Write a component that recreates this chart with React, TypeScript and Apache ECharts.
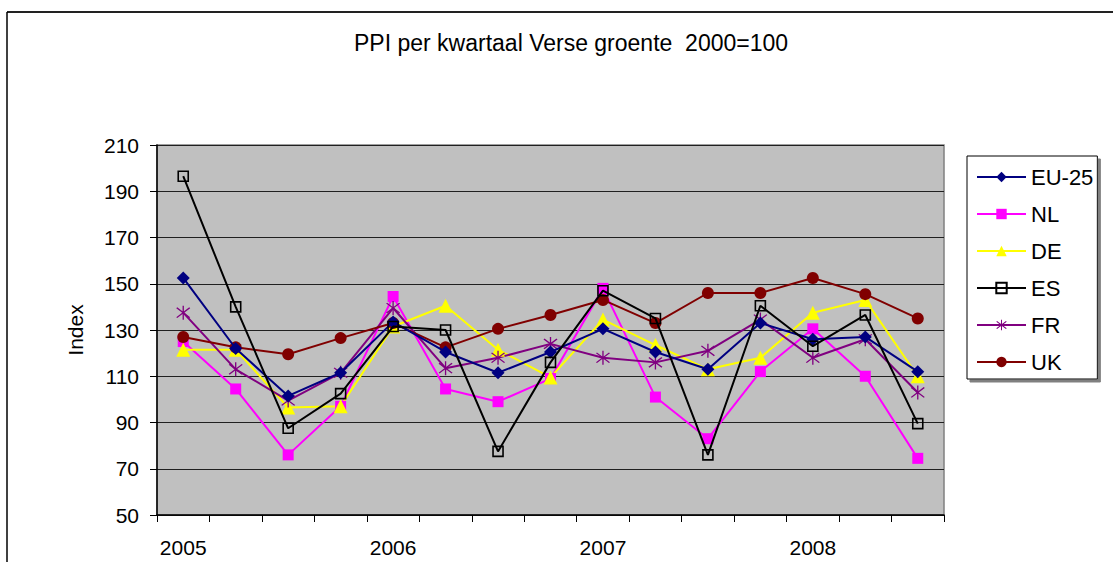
import React, { useEffect, useRef } from "react";
import * as echarts from "echarts";

const quarters = [
  "2005K1", "2005K2", "2005K3", "2005K4",
  "2006K1", "2006K2", "2006K3", "2006K4",
  "2007K1", "2007K2", "2007K3", "2007K4",
  "2008K1", "2008K2", "2008K3",
];
const eu25 = [152.5, 122, 101.5, 111.5, 133.5, 120.5, 111.5, 120.5, 130.5, 120.5, 113, 133, 126, 127, 112];
const nl = [125, 104.5, 76, 97, 144.5, 104.5, 99, 109, 148, 101, 83, 112, 130.5, 110, 74.5];
const de = [121.5, 121.5, 96.5, 97, 131.5, 140.5, 121.5, 109.5, 134.5, 123.5, 113, 118, 137.5, 143, 110];
const es = [196.5, 140, 87.5, 102.5, 131.5, 130, 77.5, 116, 147, 135, 76, 140.5, 123, 136.5, 89.5];
const fr = [137.5, 113, 99.5, 111.5, 139.5, 113.5, 118, 124, 118, 116, 121, 134.5, 118, 126, 103];
const uk = [127, 122.5, 119.5, 126.5, 133, 122.5, 130.5, 136.5, 143, 133, 146, 146, 152.5, 145.5, 135];

const titleText = "PPI per kwartaal Verse groente  2000=100";
const yName = "Index";

const FONT = "Liberation Sans, Arial, sans-serif";
const STAR =
  "path://M9.2,0 L10.8,0 L10.8,20 L9.2,20 Z M1.6,3.6 L2.8,2.4 L18.4,16.4 L17.2,17.6 Z M17.2,2.4 L18.4,3.6 L2.8,17.6 L1.6,16.4 Z";

export default function App() {
  const ref = useRef<HTMLDivElement>(null);
  useEffect(() => {
    if (!ref.current) return;
    const chart = echarts.init(ref.current, undefined, { renderer: "svg" });
    const mk = (
      name: string,
      data: number[],
      color: string,
      symbol: string,
      size: number,
      extra: any = {}
    ) => ({
      name,
      type: "line",
      data,
      symbol,
      symbolSize: size,
      showAllSymbol: true,
      lineStyle: { color, width: 2 },
      itemStyle: { color, borderColor: color, borderWidth: 0, ...(extra.itemStyle || {}) },
      emphasis: { disabled: true },
      z: extra.z || 2,
    });
    chart.setOption({
      animation: false,
      backgroundColor: "#ffffff",
      textStyle: { fontFamily: FONT },
      title: {
        text: titleText,
        left: 349,
        top: 26,
        textStyle: { fontFamily: FONT, fontSize: 23, fontWeight: "normal", color: "#000" },
      },
      grid: {
        left: 157,
        right: 169,
        top: 145,
        bottom: 47,
        show: true,
        backgroundColor: "#C0C0C0",
        borderColor: "#808080",
        borderWidth: 1.5,
      },
      legend: {
        orient: "vertical",
        left: 967,
        top: 156,
        padding: [10, 4, 6, 9],
        itemWidth: 49,
        itemHeight: 13,
        itemGap: 15,
        backgroundColor: "#ffffff",
        borderColor: "#000",
        borderWidth: 1,
        shadowColor: "#808080",
        shadowOffsetX: 3,
        shadowOffsetY: 3,
        shadowBlur: 0,
        textStyle: { fontFamily: FONT, fontSize: 22, color: "#000", padding: [0, 0, 0, 0] },
        data: ["EU-25", "NL", "DE", "ES", "FR", "UK"],
      },
      xAxis: {
        type: "category",
        data: quarters,
        boundaryGap: true,
        axisLine: { lineStyle: { color: "#000", width: 1.5 } },
        axisTick: { show: true, interval: 0, length: 7, lineStyle: { color: "#000" } },
        axisLabel: {
          interval: 3,
          margin: 22,
          fontFamily: FONT,
          fontSize: 21,
          color: "#000",
          formatter: (v: string) => v.slice(0, 4),
        },
        splitLine: { show: false },
      },
      yAxis: {
        type: "value",
        min: 50,
        max: 210,
        interval: 20,
        name: yName,
        nameLocation: "middle",
        nameGap: 71,
        nameTextStyle: { fontFamily: FONT, fontSize: 21, color: "#000" },
        axisLine: { show: true, lineStyle: { color: "#000", width: 1.5 } },
        axisTick: { show: true, length: 7, lineStyle: { color: "#000" } },
        axisLabel: { margin: 18, fontFamily: FONT, fontSize: 21, color: "#000" },
        splitLine: { show: true, lineStyle: { color: "#202020", width: 1.2 } },
      },
      graphic: [
        { type: "line", shape: { x1: 7, y1: 12, x2: 1113, y2: 12 }, style: { stroke: "#222", lineWidth: 2 } },
        { type: "line", shape: { x1: 7, y1: 12, x2: 7, y2: 562 }, style: { stroke: "#000", lineWidth: 1.5 } },
      ],
      series: [
        mk("EU-25", eu25, "#000080", "diamond", 13, { z: 3 }),
        mk("NL", nl, "#FF00FF", "rect", 11),
        mk("DE", de, "#FFFF00", "triangle", 14),
        mk("ES", es, "#000000", "rect", 10, {
          itemStyle: { color: "rgba(0,0,0,0)", borderColor: "#000", borderWidth: 1.6 },
          z: 4,
        }),
        mk("FR", fr, "#800080", STAR, 14),
        mk("UK", uk, "#800000", "circle", 12),
      ],
    });
    return () => chart.dispose();
  }, []);
  return (
    <div
      ref={ref}
      style={{ position: "fixed", left: 0, top: 0, width: 1113, height: 562 }}
    />
  );
}
